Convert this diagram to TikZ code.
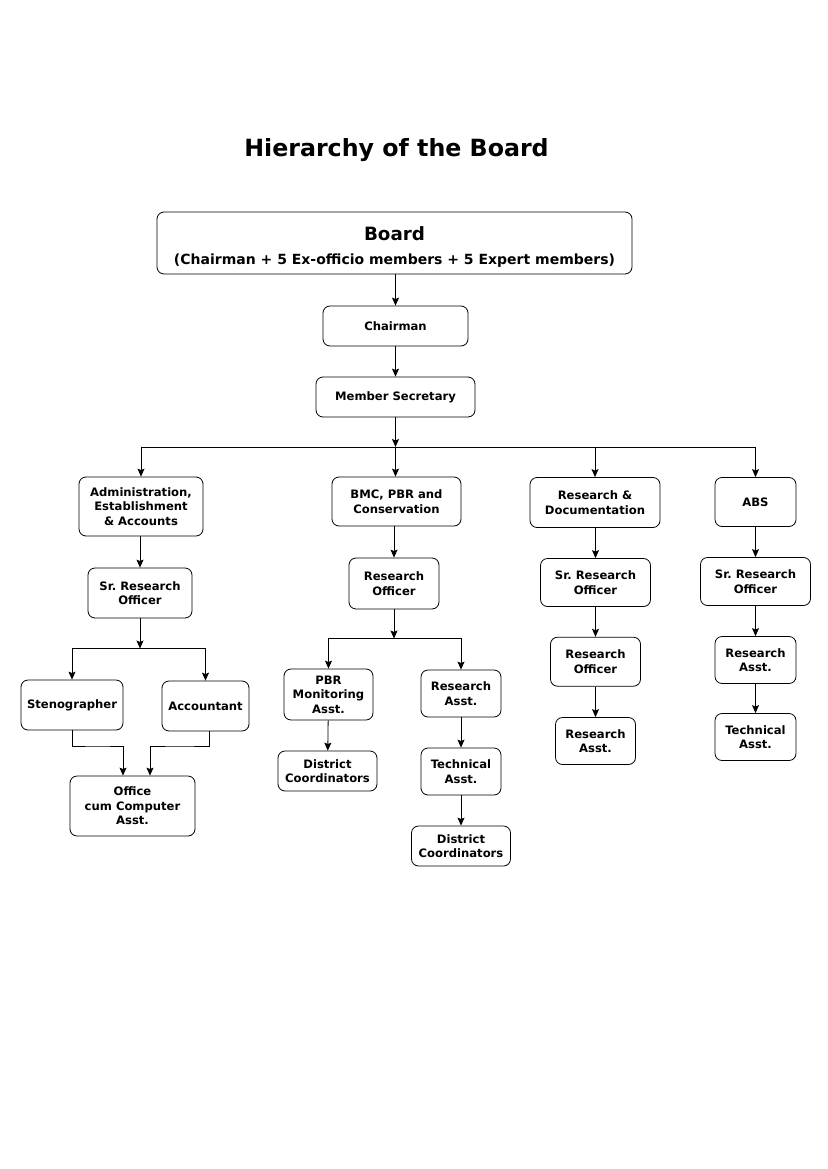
\documentclass[tikz,border=0pt]{standalone}
\usepackage{fontspec}
\setmainfont{DejaVu Sans}
\usetikzlibrary{arrows.meta}
\frenchspacing
\begin{document}
\begin{tikzpicture}[x=1pt,y=-1pt,
  box/.style={draw, rounded corners=7pt, line width=0.8pt, align=center,
    font=\fontsize{11.6}{14.5}\selectfont\bfseries, inner sep=0pt},
  arr/.style={-{Stealth[length=8pt,width=7pt,inset=1.5pt]}, line width=0.8pt},
  ln/.style={line width=0.8pt}]
\useasboundingbox (0,0) rectangle (827,1169);
\node (title) at (396.5,150) {\fontsize{23.7}{28}\selectfont\bfseries Hierarchy of the Board};
\node[box, minimum width=475pt, minimum height=62pt] (board) at (394.5,243)
  {\fontsize{18.3}{22}\selectfont\rule{0pt}{22pt}Board\\[10pt]\fontsize{14}{16}\selectfont (Chairman + 5 Ex-officio members + 5 Expert members)};
\node[box, minimum width=145pt, minimum height=40pt] (chair) at (395.5,326) {Chairman};
\node[box, minimum width=159pt, minimum height=40pt] (ms) at (395.5,397) {Member Secretary};
% level 2
\node[box, minimum width=124pt, minimum height=59pt] (adm) at (141,506.5) {Administration,\\Establishment\\\& Accounts};
\node[box, minimum width=129pt, minimum height=49pt] (bmc) at (396.5,501.5) {BMC, PBR and\\Conservation};
\node[box, minimum width=130pt, minimum height=50pt] (rd) at (595,502.5) {Research \&\\Documentation};
\node[box, minimum width=81pt, minimum height=49pt] (abs) at (755.5,502) {ABS};
% admin column
\node[box, minimum width=104pt, minimum height=50pt] (asro) at (140,593) {Sr. Research\\Officer};
\node[box, minimum width=102pt, minimum height=50pt] (steno) at (72,705) {Stenographer};
\node[box, minimum width=87pt, minimum height=50pt] (acct) at (205.5,706) {Accountant};
\node[box, minimum width=125pt, minimum height=60pt] (oca) at (132.5,806) {Office\\cum Computer\\Asst.};
% bmc column
\node[box, minimum width=90pt, minimum height=51pt] (bro) at (394,583.5) {Research\\Officer};
\node[box, minimum width=89pt, minimum height=51pt] (pbr) at (328.5,694.5) {PBR\\Monitoring\\Asst.};
\node[box, minimum width=80pt, minimum height=47pt] (bra) at (461,693.5) {Research\\Asst.};
\node[box, minimum width=99pt, minimum height=40pt] (dc1) at (327.5,771) {District\\Coordinators};
\node[box, minimum width=80pt, minimum height=47pt] (bta) at (461,771.5) {Technical\\Asst.};
\node[box, minimum width=99pt, minimum height=40pt] (dc2) at (461,846) {District\\Coordinators};
% R&D column
\node[box, minimum width=110pt, minimum height=48pt] (rsro) at (595.5,582.5) {Sr. Research\\Officer};
\node[box, minimum width=90pt, minimum height=49pt] (rro) at (595.5,661.7) {Research\\Officer};
\node[box, minimum width=80pt, minimum height=47pt] (rra) at (595.5,741) {Research\\Asst.};
% ABS column
\node[box, minimum width=110pt, minimum height=48pt] (asro2) at (755.5,581.5) {Sr. Research\\Officer};
\node[box, minimum width=81pt, minimum height=47pt] (ara) at (755.5,660) {Research\\Asst.};
\node[box, minimum width=81pt, minimum height=47pt] (ata) at (755.5,737) {Technical\\Asst.};
% coordinates
\coordinate (b1) at (395.5,447);
\coordinate (b2) at (140,648.5);
\coordinate (b3) at (394,638.5);
\coordinate (m1) at (97.5,746);
\coordinate (m2) at (179.5,746);
% connectors
\draw[arr] (board.south -| chair) -- (chair);
\draw[arr] (chair) -- (ms);
\draw[arr] (ms) -- (b1);
\draw[arr] (b1) -- (b1 |- bmc.north);
\draw[arr] (b1) -| (adm.north);
\draw[arr] (b1) -| (rd.north);
\draw[arr] (b1) -| (abs.north);
\draw[arr] (adm.south -| asro) -- (asro);
\draw[arr] (asro) -- (b2);
\draw[arr] (b2) -| (steno.north);
\draw[arr] (b2) -| (acct.north);
\draw[arr] (steno.south) |- (m1) -| ([xshift=-9.5pt]oca.north);
\draw[arr] ([xshift=3.5pt]acct.south) |- (m2) -| ([xshift=17.5pt]oca.north);
\draw[arr] (bmc.south -| bro) -- (bro);
\draw[arr] (bro) -- (b3);
\draw[arr] (b3) -| (pbr.north);
\draw[arr] (b3) -| (bra.north);
\draw[arr] (pbr) -- (dc1);
\draw[arr] (bra) -- (bta);
\draw[arr] (bta) -- (dc2);
\draw[arr] (rd.south -| rsro) -- (rsro);
\draw[arr] (rsro) -- (rro);
\draw[arr] (rro) -- (rra);
\draw[arr] (abs) -- (asro2);
\draw[arr] (asro2) -- (ara);
\draw[arr] (ara) -- (ata);
\end{tikzpicture}
\end{document}
